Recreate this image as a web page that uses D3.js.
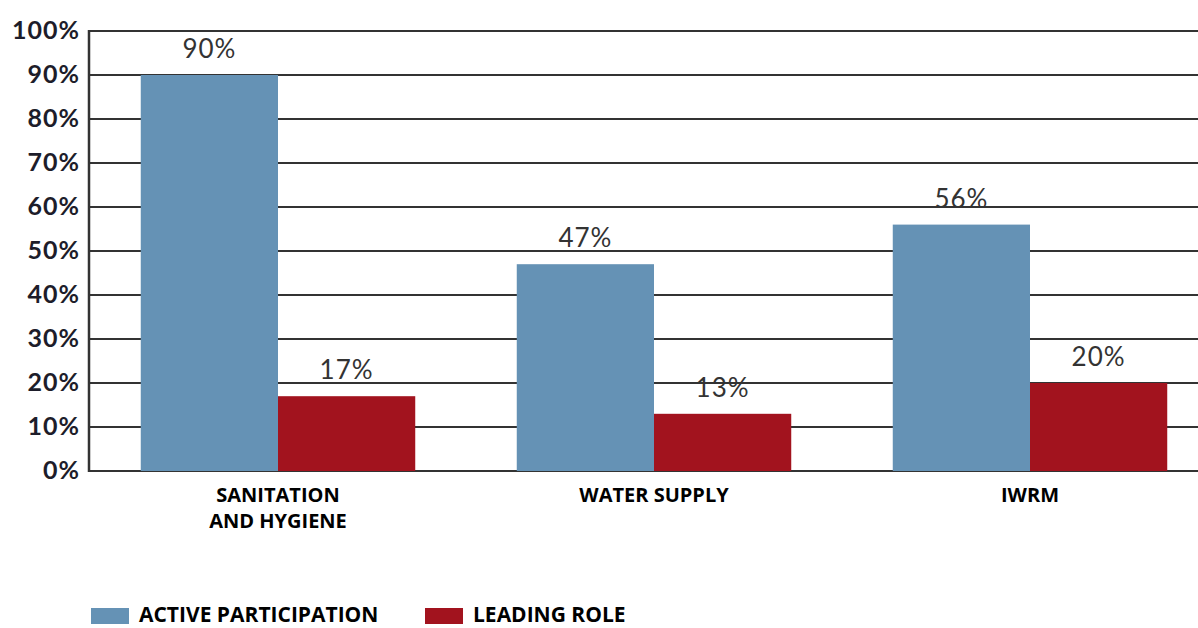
<!DOCTYPE html>
<html lang="en">
<head>
    <meta charset="UTF-8">
    <title>Participation chart</title>
    <script src="https://d3js.org/d3.v7.min.js"></script>
    <style>
        body { margin: 0; background: #fff; }
        svg { display: block; }
    </style>
</head>
<body>
<div id="chart-container"></div>
<script>
    // Chart data
    const categories = [["SANITATION", "AND HYGIENE"], ["WATER SUPPLY"], ["IWRM"]];
    const activeParticipation = [90, 47, 56];
    const leadingRole = [17, 13, 20];
    const seriesNames = ["ACTIVE PARTICIPATION", "LEADING ROLE"];
    const yTicks = [0, 10, 20, 30, 40, 50, 60, 70, 80, 90, 100];

    const width = 1198, height = 628;
    const colors = ["#6592b5", "#a2131e"];

    const svg = d3.select("#chart-container")
        .append("svg")
        .attr("width", width)
        .attr("height", height);

    // Scales
    const x = d3.scaleBand()
        .domain(d3.range(categories.length))
        .range([90, 1218])
        .paddingInner(0.27)
        .paddingOuter(0.135);

    const y = d3.scaleLinear()
        .domain([0, 100])
        .range([471, 31]);

    // Gridlines
    svg.append("g")
        .selectAll("line")
        .data(yTicks)
        .enter()
        .append("line")
        .attr("x1", 89)
        .attr("x2", width)
        .attr("y1", d => y(d))
        .attr("y2", d => y(d))
        .attr("stroke", "#333")
        .attr("stroke-width", 2);

    // Y axis line
    svg.append("line")
        .attr("x1", 89).attr("x2", 89)
        .attr("y1", y(100) - 1).attr("y2", y(0) + 1)
        .attr("stroke", "#333")
        .attr("stroke-width", 2.5);

    // Y tick labels
    svg.append("g")
        .selectAll("text")
        .data(yTicks)
        .enter()
        .append("text")
        .attr("x", 80)
        .attr("y", d => y(d) + 8)
        .attr("text-anchor", "end")
        .attr("font-family", "Lato, 'Open Sans', sans-serif")
        .attr("font-weight", "bold")
        .attr("font-size", 25)
        .attr("letter-spacing", 1)
        .attr("fill", "#1d1d2a")
        .text(d => d + "%");

    // Bars
    const half = x.bandwidth() / 2;
    const series = [activeParticipation, leadingRole];
    series.forEach((vals, s) => {
        svg.append("g")
            .selectAll("rect")
            .data(vals)
            .enter()
            .append("rect")
            .attr("x", (d, i) => x(i) + s * half)
            .attr("y", d => y(d))
            .attr("width", half)
            .attr("height", d => y(0) - y(d))
            .attr("fill", colors[s]);

        svg.append("g")
            .selectAll("text")
            .data(vals)
            .enter()
            .append("text")
            .attr("x", (d, i) => x(i) + s * half + half / 2)
            .attr("y", d => y(d) - 17)
            .attr("text-anchor", "middle")
            .attr("font-family", "Lato, 'Open Sans', sans-serif")
            .attr("font-size", 26)
            .attr("letter-spacing", 1)
            .attr("fill", "#333")
            .text(d => d + "%");
    });

    // Category labels
    categories.forEach((lines, i) => {
        const t = svg.append("text")
            .attr("x", x(i) + half)
            .attr("y", 502)
            .attr("text-anchor", "middle")
            .attr("font-family", "'Open Sans', sans-serif")
            .attr("font-weight", "bold")
            .attr("font-size", 20)
            .attr("fill", "#000");
        lines.forEach((line, k) => {
            t.append("tspan")
                .attr("x", x(i) + half)
                .attr("dy", k === 0 ? 0 : 26)
                .text(line);
        });
    });

    // Legend
    const legendX = [91, 425];
    seriesNames.forEach((name, s) => {
        svg.append("rect")
            .attr("x", legendX[s])
            .attr("y", 608)
            .attr("width", 38)
            .attr("height", 16)
            .attr("fill", colors[s]);
        svg.append("text")
            .attr("x", legendX[s] + 48)
            .attr("y", 622)
            .attr("font-family", "'Open Sans', sans-serif")
            .attr("font-weight", "bold")
            .attr("font-size", 21)
            .attr("fill", "#000")
            .text(name);
    });
</script>
</body>
</html>
